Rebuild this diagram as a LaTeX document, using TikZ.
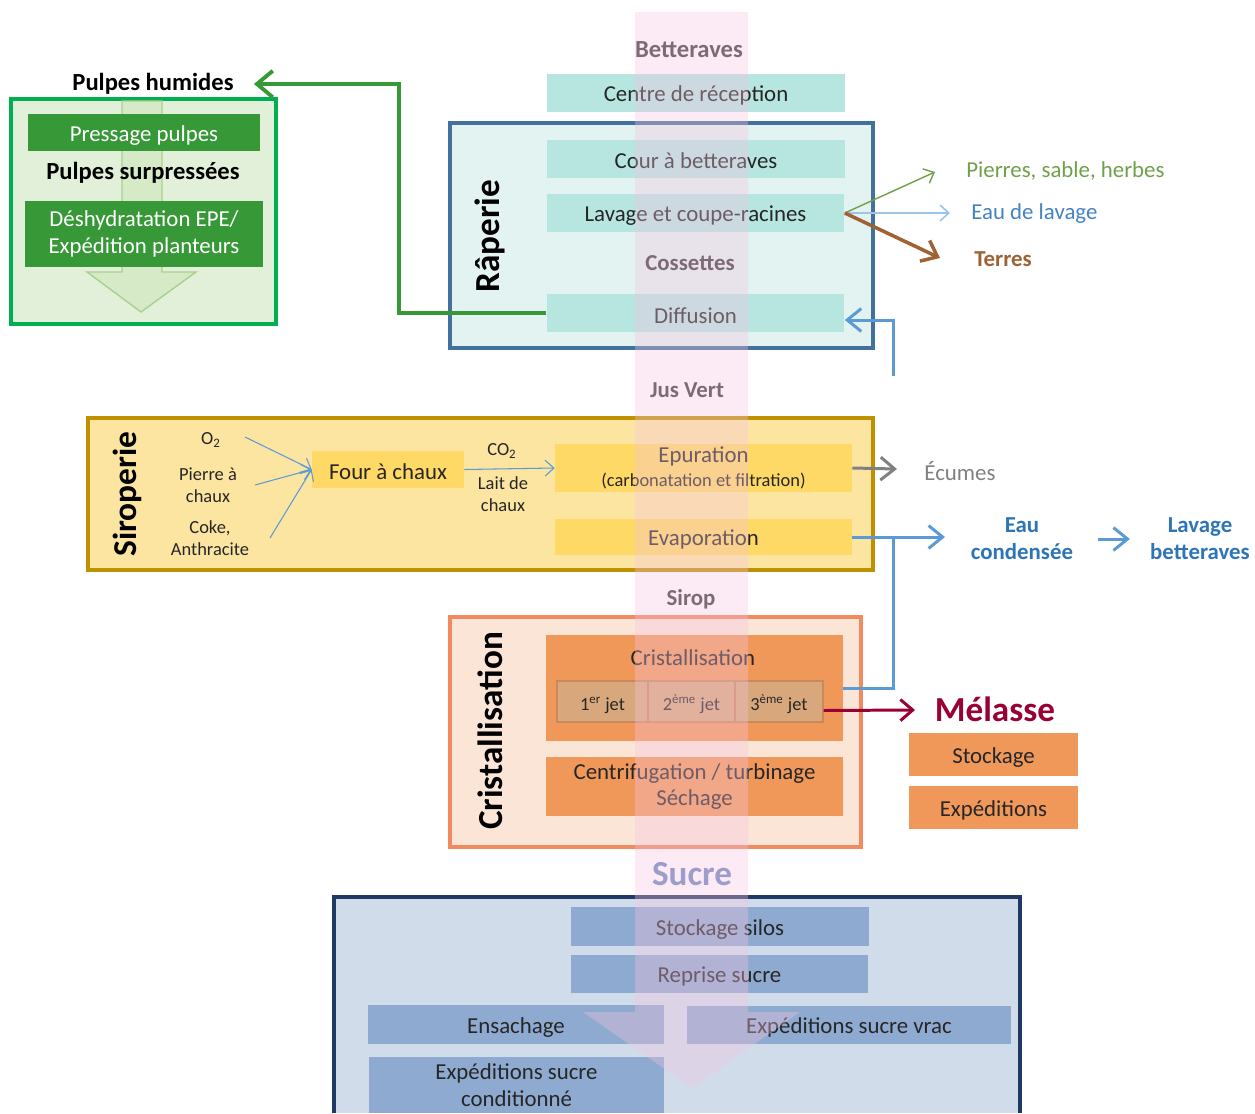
\documentclass[tikz,border=0pt]{standalone}
\usepackage{fontspec}
\setmainfont{Carlito}
\usetikzlibrary{arrows.meta,positioning}

\definecolor{texte}{RGB}{38,38,38}
\definecolor{titre}{RGB}{60,60,60}
\definecolor{turquoise}{RGB}{183,230,224}
\definecolor{rapFond}{RGB}{226,243,241}
\definecolor{rapBord}{RGB}{65,113,156}
\definecolor{pulpeFond}{RGB}{226,240,217}
\definecolor{pulpeBord}{RGB}{0,176,80}
\definecolor{vertFonce}{RGB}{55,152,55}
\definecolor{vertFleche}{RGB}{169,209,142}
\definecolor{vertPale}{RGB}{214,234,200}
\definecolor{siroFond}{RGB}{252,229,160}
\definecolor{siroBord}{RGB}{191,144,0}
\definecolor{jaune}{RGB}{255,217,102}
\definecolor{bleu}{RGB}{91,155,213}
\definecolor{bleuClair}{RGB}{157,195,230}
\definecolor{bleuTexte}{RGB}{46,117,182}
\definecolor{bleuLavage}{RGB}{68,130,198}
\definecolor{vertHerbe}{RGB}{112,160,72}
\definecolor{brun}{RGB}{158,98,52}
\definecolor{gris}{RGB}{128,128,128}
\definecolor{cristFond}{RGB}{251,229,214}
\definecolor{cristBord}{RGB}{241,138,95}
\definecolor{orangeBoite}{RGB}{240,152,90}
\definecolor{jetFond}{RGB}{216,168,124}
\definecolor{jetBord}{RGB}{200,138,90}
\definecolor{bordeaux}{RGB}{153,0,51}
\definecolor{sucreFond}{RGB}{208,220,234}
\definecolor{sucreBord}{RGB}{31,56,100}
\definecolor{sucreBoite}{RGB}{143,170,208}
\definecolor{sucreTitre}{RGB}{110,138,192}
\definecolor{rose}{RGB}{246,195,224}

\newcommand{\fnormal}{\fontsize{13}{15.5}\selectfont}
\newcommand{\fpetit}{\fontsize{10.5}{12.5}\selectfont}
\newcommand{\fgras}{\fontsize{13}{15.5}\selectfont\bfseries}
\newcommand{\fgrand}{\fontsize{20}{24}\selectfont\bfseries}
\newcommand{\montant}{\rule{0pt}{12pt}}

\tikzset{
  boite/.style={inner sep=0pt, align=center, text=texte, font=\fnormal, execute at begin node=\montant},
  boiteRap/.style={boite, fill=turquoise, minimum width=5.96cm, minimum height=0.76cm},
  boitePulpe/.style={boite, fill=vertFonce, text=white},
  boiteSiro/.style={boite, fill=jaune},
  boiteCrist/.style={boite, fill=orangeBoite, minimum width=5.94cm},
  boiteJet/.style={boite, fill=jetFond, draw=jetBord, line width=0.8pt, minimum height=0.82cm, font=\fpetit},
  boiteSucre/.style={boite, fill=sucreBoite, minimum height=0.77cm},
  etiquette/.style={text=titre, font=\fgras},
  atelier/.style={rotate=90, font=\fgrand, text=black},
  cadre/.style={line width=2.2pt},
  fleche/.style={-{Straight Barb[length=5pt,width=9pt]}},
  grosseFleche/.style={-{Straight Barb[length=8pt,width=13pt]}, line width=1.7pt},
}

\begin{document}
\begin{tikzpicture}[x=0.02cm,y=-0.02cm]
  \useasboundingbox (0,0) rectangle (1255,1113);

  % Râperie
  \draw[cadre,draw=rapBord,fill=rapFond] (450,123) rectangle (873,348);
  \node[atelier] (raperie) at (490,236) {Râperie};
  \node[etiquette,font=\fontsize{14}{16}\selectfont\bfseries] (betteraves) at (689,50) {Betteraves};
  \node[boiteRap] (reception) at (696,93) {Centre de réception};
  \node[boiteRap] (cour) at (696,158.5) {Cour à betteraves};
  \node[boiteRap] (lavage) at (695.5,213) {Lavage et coupe-racines};
  \node[etiquette] (cossettes) at (690,263) {Cossettes};
  \node[boiteRap] (diffusion) at (695.5,313) {Diffusion};

  % sorties du lavage
  \node[anchor=west,inner sep=0pt,text=vertHerbe,font=\fnormal] (pierres) at (966,171) {Pierres, sable, herbes};
  \node[anchor=west,inner sep=0pt,text=bleuLavage,font=\fnormal] (eauLavage) at (971,214) {Eau de lavage};
  \node[anchor=west,inner sep=0pt,text=brun,font=\fgras] (terres) at (974,259) {Terres};
  \coordinate (finPierres) at (935,172);
  \coordinate (finEauLavage) at (950,213);
  \coordinate (finTerres) at (940,258);
  \draw[fleche,vertHerbe,line width=0.8pt] (lavage.east) -- (finPierres);
  \draw[fleche,bleuClair,line width=0.9pt] (lavage.east) -- (finEauLavage);
  \draw[grosseFleche,brun,line width=2pt] (lavage.east) -- (finTerres);

  % retour vers la diffusion
  \coordinate (retourDiff) at (893,376);
  \draw[grosseFleche,bleu] (retourDiff) |- ([yshift=-0.14cm]diffusion.east);

  % Pulpes
  \draw[cadre,draw=pulpeBord,fill=pulpeFond] (11,99) rectangle (276,324);
  \draw[draw=vertFleche,fill=vertPale,line width=0.8pt] (122,101) -- (162,101) -- (162,272) -- (196,272) -- (141,312) -- (87,272) -- (122,272) -- cycle;
  \node[etiquette,text=black,font=\fontsize{14}{16}\selectfont\bfseries,inner sep=0.4cm] (humides) at (153,84) {Pulpes humides};
  \node[boitePulpe,minimum width=4.64cm,minimum height=0.74cm] (pressage) at (144,132.5) {Pressage pulpes};
  \node[etiquette,text=black,font=\fontsize{14}{16}\selectfont\bfseries] (surpressees) at (143,173) {Pulpes surpressées};
  \node[boitePulpe,minimum width=4.76cm,minimum height=1.32cm,font=\fontsize{13}{15}\selectfont] (deshydratation) at (144,234) {Déshydratation EPE/\\Expédition planteurs};
  \draw[grosseFleche,vertFonce,line width=2.2pt,-{Straight Barb[length=9pt,width=15pt]}] (diffusion.west) -- ++(-147,0) |- (humides.east);

  \node[etiquette] (jusVert) at (687,390) {Jus Vert};

  % Siroperie
  \draw[cadre,draw=siroBord,fill=siroFond] (88,418) rectangle (873,570);
  \node[atelier,font=\fontsize{19}{22}\selectfont\bfseries] (siroperie) at (127,494) {Siroperie};
  \node[font=\fpetit,text=texte] (oxygene) at (211,440) {O\textsubscript{2}};
  \node[font=\fpetit,text=texte,align=center] (pierre) at (208,485) {Pierre à\\chaux};
  \node[font=\fpetit,text=texte,align=center] (coke) at (210,538) {Coke,\\Anthracite};
  \node[boiteSiro,minimum width=3.04cm,minimum height=0.74cm] (four) at (388,469.5) {Four à chaux};
  \coordinate (depOxygene) at (245,437);
  \coordinate (depPierre) at (255,485);
  \coordinate (depCoke) at (270,538);
  \foreach \dep in {depOxygene,depPierre,depCoke}
    \draw[fleche,bleu,line width=0.6pt] (\dep) -- (four.west);
  \node[font=\fpetit,text=texte] (co2) at (502,451) {CO\textsubscript{2}};
  \node[font=\fpetit,text=texte,align=center] (lait) at (503,494) {Lait de\\chaux};
  \node[boiteSiro,minimum width=5.94cm,minimum height=0.96cm,font=\fontsize{13}{13.5}\selectfont] (epuration) at (703.5,468) {Epuration\\{\fpetit(carbonatation et filtration)}};
  \node[boiteSiro,minimum width=5.94cm,minimum height=0.72cm] (evaporation) at (703.5,537) {Evaporation};
  \draw[fleche,bleu,line width=0.6pt] (four.east) -- (epuration.west);

  % Écumes et eau condensée
  \node[text=gris,font=\fnormal] (ecumes) at (960,471) {Écumes};
  \coordinate (finEcumes) at (897,469);
  \draw[grosseFleche,gris] (epuration.east) -- (finEcumes);
  \node[text=bleuTexte,font=\fgras,align=center,inner sep=0pt] (eauCondensee) at (1022,539) {Eau\\condensée};
  \node[text=bleuTexte,font=\fgras,align=center,inner sep=0pt] (lavageBett) at (1200,539) {Lavage\\betteraves};
  \coordinate (jonction) at (893,537);
  \coordinate (finCondensee) at (945,537);
  \draw[grosseFleche,bleu] (evaporation.east) -- (finCondensee);
  \draw[grosseFleche,bleu,shorten <=0.5cm,shorten >=0.4cm] (eauCondensee.east) -- (lavageBett.west);

  \node[etiquette] (sirop) at (691,599) {Sirop};

  % Cristallisation
  \draw[cadre,draw=cristBord,fill=cristFond] (450,617) rectangle (861,847);
  \node[atelier] (cristallisation) at (490,731) {Cristallisation};
  \node[boiteCrist,minimum height=2.12cm] (cristal) at (694.5,688) {};
  \node[font=\fnormal,text=texte] (cristalTitre) at (693,658) {Cristallisation};
  \node[boiteJet,minimum width=1.82cm] (jet1) at (602.5,701.5) {1\textsuperscript{er} jet};
  \node[boiteJet,minimum width=1.74cm] (jet2) at (691.5,701.5) {2\textsuperscript{ème} jet};
  \node[boiteJet,minimum width=1.76cm] (jet3) at (779,701.5) {3\textsuperscript{ème} jet};
  \node[boiteCrist,minimum height=1.18cm,font=\fontsize{13}{15}\selectfont] (centrifugation) at (694.5,786.5) {Centrifugation / turbinage\\Séchage};
  \draw[bleu,line width=1.7pt] (cristal.east) -| (jonction);

  % Mélasse
  \node[text=bordeaux,font=\fgrand] (melasse) at (995,709) {Mélasse};
  \coordinate (finMelasse) at (915,710);
  \draw[grosseFleche,bordeaux,-{Straight Barb[length=7pt,width=12pt]}] ([yshift=-0.18cm]jet3.east) -- (finMelasse);
  \node[boite,fill=orangeBoite,minimum width=3.38cm,minimum height=0.86cm] (stockage) at (993.5,754.5) {Stockage};
  \node[boite,fill=orangeBoite,minimum width=3.38cm,minimum height=0.86cm] (expeditions) at (993.5,807.5) {Expéditions};

  % Sucre
  \node[text=sucreTitre,font=\fgrand] (sucre) at (692,874) {Sucre};
  \fill[sucreFond] (334,897) rectangle (1020,1113);
  \draw[line width=1.8pt,sucreBord] (334,1113) -- (334,897) -- (1020,897) -- (1020,1113);
  \node[boiteSucre,minimum width=5.96cm] (silos) at (720,926.5) {Stockage silos};
  \node[boiteSucre,minimum width=5.94cm] (reprise) at (719.5,974) {Reprise sucre};
  \node[boiteSucre,minimum width=5.92cm] (ensachage) at (516,1024.5) {Ensachage};
  \node[boiteSucre,minimum width=6.48cm] (vrac) at (849,1025) {Expéditions sucre vrac};
  \node[boiteSucre,minimum width=5.9cm,minimum height=1.12cm,font=\fontsize{13}{15}\selectfont] (conditionne) at (516.5,1085) {Expéditions sucre\\conditionné};

  % grande flèche rose par-dessus
  \fill[rose,opacity=0.35] (635,12) -- (748,12) -- (748,1012) -- (800,1012) -- (692,1088) -- (583,1012) -- (635,1012) -- cycle;
\end{tikzpicture}
\end{document}
